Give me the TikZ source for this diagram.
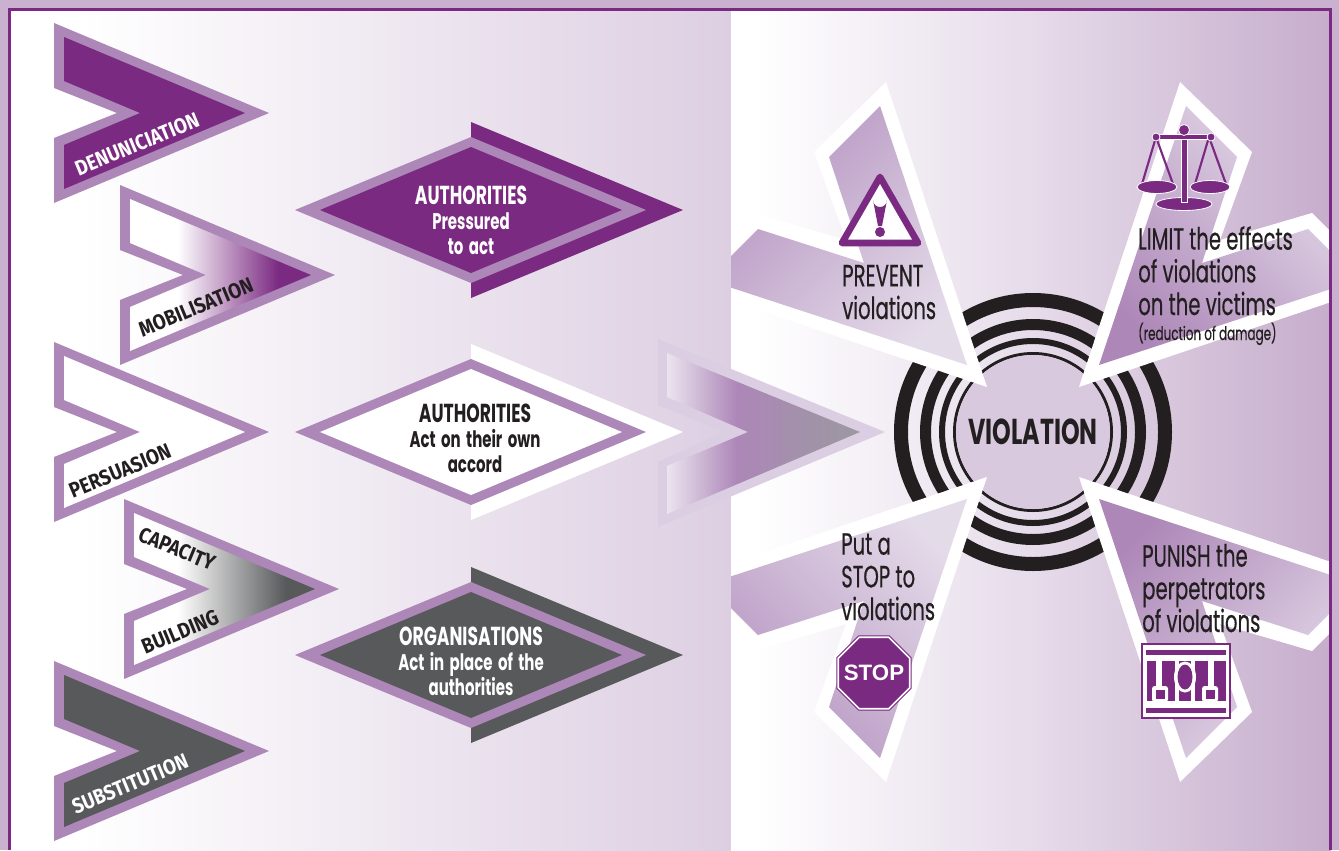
\documentclass[tikz,border=0pt]{standalone}
\usepackage{fontspec}
\usetikzlibrary{shapes.geometric}
\newfontfamily\bodyfont[FakeStretch=0.64,FakeBold=0.4]{Poppins}
\newfontfamily\futurafont[FakeStretch=0.66,WordSpace=1.7]{Poppins}
\newfontfamily\bandfont[FakeStretch=0.88]{Fira Sans}
\setmainfont{Liberation Sans}

\definecolor{violetdark}{HTML}{7B2A82}
\definecolor{violetband}{HTML}{AD87B8}
\definecolor{framelight}{HTML}{C9B1CF}
\definecolor{panelleft}{HTML}{DDCFE2}
\definecolor{panelright}{HTML}{C6ADCC}
\definecolor{panelmid}{HTML}{E6DCEA}
\definecolor{greydark}{HTML}{58595B}
\definecolor{discfill}{HTML}{D8C9DF}
\definecolor{inkblack}{HTML}{231F20}
\definecolor{bigband}{HTML}{DBCEE2}
\definecolor{bigpale}{HTML}{EBE4EE}
\definecolor{biggrey}{HTML}{9A999F}
\definecolor{wedgedark}{HTML}{B695C1}
\definecolor{wedgetip}{HTML}{AD87B8}
\definecolor{wedgelight}{HTML}{E4DBE9}

\pgfdeclarehorizontalshading{leftfade}{100bp}{color(0bp)=(white); color(30bp)=(white); color(75bp)=(panelleft); color(100bp)=(panelleft)}
\pgfdeclarehorizontalshading{rightfade}{100bp}{color(0bp)=(white); color(27bp)=(white); color(50bp)=(panelmid); color(75bp)=(panelright); color(100bp)=(panelright)}
\pgfdeclarehorizontalshading{mobfade}{100bp}{color(0bp)=(white); color(38bp)=(white); color(66bp)=(violetdark); color(100bp)=(violetdark)}
\pgfdeclarehorizontalshading{capfade}{100bp}{color(0bp)=(white); color(37bp)=(white); color(67bp)=(greydark); color(100bp)=(greydark)}
\pgfdeclarehorizontalshading{bigfade}{100bp}{color(0bp)=(bigpale); color(25bp)=(bigpale); color(43bp)=(violetband); color(75bp)=(biggrey); color(100bp)=(biggrey)}

\newcommand{\outerchevron}{(0,-90) -- (215,0) -- (0,90) -- (0,25) -- (63,0) -- (0,-25) -- cycle}
\newcommand{\innerchevron}{(10,-76) -- (191,0) -- (10,76) -- (10,32) -- (86,0) -- (10,-32) -- cycle}

\tikzset{
    chevlabel/.style={font=\bandfont\bfseries\fontsize{16}{18}\selectfont, rotate=22.5, inner sep=0pt},
    boxlabel/.style={font=\futurafont\bfseries\fontsize{17}{18.75}\selectfont, align=center, inner sep=0pt},
    bodylabel/.style={font=\bodyfont\fontsize{23}{24.5}\selectfont, text=inkblack, align=left, inner sep=0pt, anchor=base west},
    pics/chevron/.style={code={
        \fill[violetband] \outerchevron;
        \path[#1] \innerchevron;
    }},
    pics/losange/.style={code={
        \fill[#1] (0,-88) -- (212,0) -- (0,88) -- cycle;
        \fill[violetband] (-176,0) -- (0,-73) -- (175,0) -- (0,73) -- cycle;
        \fill[#1] (-151,0) -- (0,-63) -- (151,0) -- (0,63) -- cycle;
    }},
}

\begin{document}
\begin{tikzpicture}[x=0.75pt,y=-0.75pt]
    \useasboundingbox (0,0) rectangle (1339,850);
    % panels and frame
    \fill[framelight] (0,0) rectangle (1339,850);
    \shade[shading=leftfade] (9,9) rectangle (731,850);
    \shade[shading=rightfade] (731,9) rectangle (1331,850);

    % rings round the violation
    \coordinate (hub) at (1033,432);
    \foreach \rout/\rin in {139/125, 113/102, 94/88, 80/77}
        \fill[inkblack, even odd rule] (hub) circle (\rout) circle (\rin);
    \fill[discfill] (hub) circle (77);

    % the four pointed shapes
    \begin{scope}
        \clip (731,9) rectangle (1330,850);
        \foreach \sx/\sy/\ang/\ctop/\cbot in {
            1/1/-45/wedgelight/wedgetip,
            -1/1/45/wedgedark/wedgelight,
            -1/-1/-45/wedgelight/wedgedark,
            1/-1/45/wedgetip/wedgelight}
        {
            \begin{scope}[shift={(hub)},xscale=\sx,yscale=\sy]
                \fill[white] (46,-45) -- (147,-350) -- (219,-280) -- (187,-192) -- (279,-219)
                    -- (310,-188) -- (310,-134) -- cycle;
                \shade[top color=\ctop,bottom color=\cbot,shading angle=\ang]
                    (66,-67) -- (153,-326) -- (204,-275) -- (169,-169) -- (275,-203)
                    -- (310,-168) -- (310,-147) -- cycle;
            \end{scope}
        }
    \end{scope}

    % frame line
    \draw[violetdark, line width=2pt] (9.5,850) -- (9.5,9.5) -- (1330.5,9.5) -- (1330.5,850);

    % big arrow in the middle
    \fill[bigband] (658,339) -- (885,432) -- (658,527) -- (658,462) -- (724,432) -- (658,405) -- cycle;
    \shade[shading=bigfade] (667,353) -- (860,432) -- (667,514) -- (667,466) -- (748,432) -- (667,397) -- cycle;

    % small arrows
    \pic at (54,113) {chevron={fill=violetdark}};
    \pic at (120,275) {chevron={shading=mobfade}};
    \pic at (54,432) {chevron={fill=white}};
    \pic at (124,589) {chevron={shading=capfade}};
    \pic at (54,751) {chevron={fill=greydark}};

    \node[chevlabel, text=white] (denunciation) at (137,144) {DENUNICIATION};
    \node[chevlabel, text=inkblack] (mobilisation) at (196,307) {MOBILISATION};
    \node[chevlabel, text=inkblack] (persuasion) at (120,471) {PERSUASION};
    \node[chevlabel, text=inkblack, rotate=-45] (capacity) at (177,549) {CAPACITY};
    \node[chevlabel, text=inkblack] (building) at (180,632) {BUILDING};
    \node[chevlabel, text=white] (substitution) at (130,784) {SUBSTITUTION};

    % diamonds
    \pic at (471,210) {losange=violetdark};
    \pic at (471,432) {losange=white};
    \pic at (471,655) {losange=greydark};

    \node[boxlabel, text=white] (pressured) at (471,220)
        {\fontsize{19.5}{18.75}\selectfont AUTHORITIES\\Pressured\\to act};
    \node[boxlabel, text=inkblack] (ownaccord) at (475,438)
        {\fontsize{19.5}{18.75}\selectfont AUTHORITIES\\Act on their own\\accord};
    \node[boxlabel, text=white] (inplace) at (471,661)
        {\fontsize{19.5}{18.75}\selectfont ORGANISATIONS\\Act in place of the\\authorities};

    % centre text
    \node[font=\futurafont\bfseries\fontsize{27}{28}\selectfont, text=inkblack, inner sep=0pt] (violation) at (hub) {VIOLATION};

    % warning sign
    \draw[violetdark, fill=white, line width=5pt, line join=round] (880,177) -- (842,243) -- (918,243) -- cycle;
    \fill[violetdark] (873,200) arc (180:0:7) -- (882,226) -- (878,226) -- cycle;
    \fill[violetdark] (880,232) circle (5);
    \node[bodylabel] (prevent) at (842,319) {PREVENT\\violations};

    % scales
    \foreach \px in {1157,1210}
        \draw[violetdark, line width=1.6pt] (\px-1,137) -- (\px-15,184) (\px-1,137) -- (\px+16,184);
    \fill[violetdark, draw=white, line width=0.6pt] (1157,187) ellipse (20 and 6.5);
    \fill[violetdark, draw=white, line width=0.6pt] (1210,187) ellipse (20 and 6.5);
    \fill[violetdark, draw=white, line width=0.6pt] (1184,204) ellipse (28 and 6.5);
    \fill[violetdark, draw=white, line width=0.6pt] (1181,135) rectangle (1187,202);
    \fill[violetdark, draw=white, line width=0.6pt] (1156,134.5) rectangle (1211,139.5);
    \fill[violetdark, draw=white, line width=0.6pt] (1184,130) circle (5.5);
    \fill[violetdark, draw=white, line width=0.6pt] (1156,137) circle (4);
    \fill[violetdark, draw=white, line width=0.6pt] (1211,137) circle (4);
    \node[bodylabel] (limit) at (1138,315) {LIMIT the effects\\of violations\\on the victims};
    \node[font=\bodyfont\fontsize{14}{16}\selectfont, text=inkblack, inner sep=0pt, anchor=base west] (damage) at (1138,340) {(reduction of damage)};

    % stop sign
    \node[bodylabel] (putstop) at (841,620) {Put a\\STOP to\\violations};
    \node[regular polygon, regular polygon sides=8, minimum size=58pt, inner sep=0pt, fill=violetdark,
        draw=violetdark, double=white, double distance=1.2pt, line width=0.8pt] (stopbox) at (874,673) {};
    \node[text=white, inner sep=0pt, font=\bfseries\fontsize{16.7}{18}\selectfont] (stop) at (stopbox) {STOP};

    % bars
    \node[bodylabel] (punish) at (1142,632) {PUNISH the\\perpetrators\\of violations};
    \draw[violetdark, fill=white, line width=1.2pt] (1142,644) rectangle (1230,718);
    \fill[violetdark] (1146,650) rectangle (1226,655);
    \fill[violetdark] (1146,708) rectangle (1226,713);
    \fill[violetdark] (1147,661) rectangle (1226,701);
    \foreach \bl/\br in {1156/1162, 1208/1214}
        \fill[white] (\bl,661) rectangle (\br,690);
    \foreach \bl/\br in {1175/1179, 1191/1195}
        \fill[white] (\bl,661) rectangle (\br,701);
    \fill[white] (1185,677) ellipse (11 and 15.5);
    \fill[violetdark] (1185,677) ellipse (7.5 and 12.5);
    \foreach \hx in {1160,1210} {
        \fill[white, rounded corners=2pt] (\hx-8,686) rectangle (\hx+8,702);
        \fill[violetdark] (\hx-4.5,690) rectangle (\hx+4.5,699);
    }
\end{tikzpicture}
\end{document}
